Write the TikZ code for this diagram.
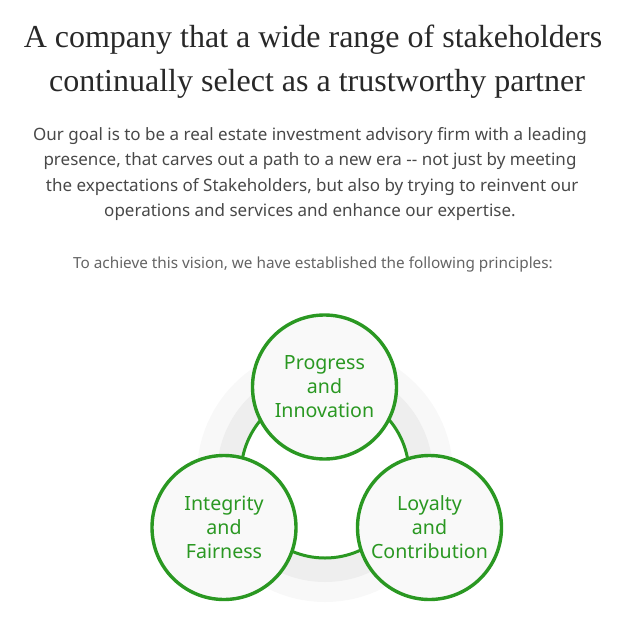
\documentclass[tikz,border=0pt]{standalone}
\usepackage{fontspec}
\setmainfont{Liberation Serif}
\newfontfamily\bodyfont{Noto Sans}
\definecolor{vgreen}{RGB}{42,152,34}
\definecolor{vtext}{RGB}{40,40,40}
\definecolor{vbody}{RGB}{72,72,72}
\definecolor{vhalo}{RGB}{248,248,248}
\definecolor{vband}{RGB}{238,238,238}
\definecolor{vfill}{RGB}{249,249,249}

\tikzset{
  principle/.style={circle,draw=vgreen,line width=3.4pt,fill=vfill,
    minimum size=144pt,inner sep=0pt,align=center,text=vgreen,
    font=\bodyfont\fontsize{19.6}{24}\selectfont},
  bodytext/.style={align=center,text=vbody,font=\bodyfont\fontsize{17}{25.5}\selectfont}
}

\begin{document}
\begin{tikzpicture}[x=1pt,y=-1pt]
  \useasboundingbox (0,0) rectangle (625,627);
  \coordinate (C) at (325,474);
  % heading and text
  \node[align=center,text=vtext,font=\fontsize{32}{44.5}\selectfont] (title) at (313,61.5)
    {A company that a wide range of stakeholders\\
     \ continually select as a trustworthy partner};
  \node[bodytext] (goal) at (310,174)
    {Our goal is to be a real estate investment advisory firm with a leading\\
     presence, that carves out a path to a new era -{}- not just by meeting\\
     \ the expectations of Stakeholders, but also by trying to reinvent our\\
     operations and services and enhance our expertise.};
  \node[bodytext,text=vbody!85,font=\bodyfont\fontsize{15.3}{16}\selectfont] (vision) at (313,264)
    {To achieve this vision, we have established the following principles:};
  % halo and ring
  \fill[vhalo] (C) circle[radius=128pt];
  \fill[vband] (C) circle[radius=108pt];
  \fill[white] (C) circle[radius=84pt];
  \draw[vgreen,line width=3pt] (C) circle[radius=84pt];
  % principles
  \node[principle] (prog) at (324.5,387) {Progress\\and\\Innovation};
  \node[principle] (integ) at (224,527.5) {Integrity\\and\\Fairness};
  \node[principle] (loyal) at (429.5,527.5) {Loyalty\\and\\Contribution};
\end{tikzpicture}
\end{document}
